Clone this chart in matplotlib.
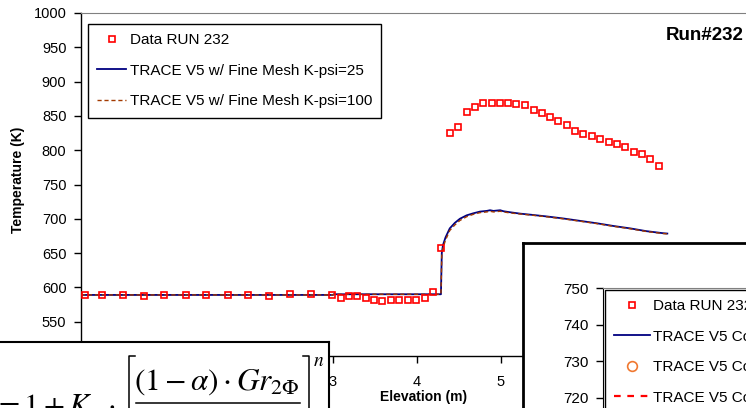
import matplotlib
matplotlib.use("Agg")
import matplotlib.pyplot as plt
from matplotlib.lines import Line2D

plt.rcParams['font.family'] = ['Liberation Sans', 'DejaVu Sans']
plt.rcParams['mathtext.fontset'] = 'stix'

# ---------------- data ----------------
data_x = [0.05, 0.25, 0.50, 0.75, 0.99, 1.25, 1.49, 1.75, 1.99, 2.24, 2.49, 2.74, 2.99,
          3.09, 3.19, 3.29, 3.39, 3.49, 3.58, 3.69, 3.78, 3.89, 3.99, 4.09, 4.19, 4.29,
          4.39, 4.49, 4.59, 4.69, 4.79, 4.89, 4.99, 5.08, 5.18, 5.29, 5.39, 5.49, 5.58,
          5.68, 5.78, 5.88, 5.98, 6.08, 6.18, 6.28, 6.38, 6.48, 6.58, 6.68, 6.77, 6.88]
data_y = [589, 589, 589, 588, 589, 589, 589, 589, 589, 588, 590, 590, 589,
          585, 587, 587, 585, 582, 580, 582, 582, 582, 582, 585, 593, 658,
          825, 834, 855, 863, 869, 869, 869, 869, 868, 866, 859, 854, 849,
          842, 837, 828, 824, 820, 816, 812, 809, 804, 797, 794, 787, 777]

k25_x = [0.0, 1.0, 2.0, 3.0, 3.01, 4.0, 4.285, 4.29, 4.295, 4.31, 4.34, 4.39, 4.45,
         4.51, 4.59, 4.67, 4.75, 4.83, 4.87, 4.91, 4.95, 4.99, 5.03, 5.11, 5.23, 5.35,
         5.54, 5.74, 5.94, 6.14, 6.34, 6.54, 6.73, 6.93, 6.98]
k25_y = [589, 589, 589, 589, 590, 590, 590, 620, 650, 662, 673, 686, 694,
         700, 705, 708, 710.5, 711.5, 712.5, 711.5, 712, 712.5, 711, 709.5, 707.5, 706,
         703.5, 700.5, 697, 693.5, 689.5, 686, 682, 679, 678.5]

k100_x = [0.0, 1.0, 2.0, 3.0, 3.01, 4.0, 4.285, 4.29, 4.295, 4.31, 4.34, 4.39, 4.45,
          4.51, 4.59, 4.67, 4.75, 4.83, 4.87, 4.91, 4.95, 4.99, 5.03, 5.11, 5.23, 5.35,
          5.54, 5.74, 5.94, 6.14, 6.34, 6.54, 6.73, 6.93, 6.98]
k100_y = [589, 589, 589, 589, 590, 590, 590, 618, 646, 658, 669, 683, 691,
          697.5, 703, 706.5, 709, 710, 711, 710, 710.5, 711, 710, 708.5, 707, 705.5,
          703, 700, 696.5, 693, 689, 685.5, 681.5, 678.5, 678]

main_labels = ["Data RUN 232", "TRACE V5 w/ Fine Mesh K-psi=25",
               "TRACE V5 w/ Fine Mesh K-psi=100"]
inset_labels = ["Data RUN 232", "TRACE V5 Coarse Mesh K-psi=25",
                "TRACE V5 Coarse Mesh K-psi=100", "TRACE V5 Coarse Mesh K-psi=200"]
main_yticks = list(range(500, 1001, 50))
main_ytick_labels = [''] + [str(v) for v in range(550, 1001, 50)]
main_xticks = list(range(0, 9))
main_xtick_labels = ['', '', '', '3', '4', '5', '', '', '']
inset_yticks = [720, 730, 740, 750]

W, H = 746, 408
fig = plt.figure(figsize=(W / 100, H / 100), dpi=100)

def fx(px):
    return px / W

def fy(py):
    return 1 - py / H

# ---------------- main axes ----------------
ax = fig.add_axes([fx(81), fy(356), fx(753) - fx(81), fy(13) - fy(356)], zorder=0)
ax.plot(data_x, data_y, linestyle='none', marker='s', markersize=5,
        markerfacecolor='none', markeredgecolor='#FF0000', markeredgewidth=1.2,
        label=main_labels[0], zorder=4)
ax.plot(k25_x, k25_y, color='#000080', lw=1.3, label=main_labels[1], zorder=3)
ax.plot(k100_x, k100_y, color='#A33A00', lw=1.0, dashes=(3, 2),
        label=main_labels[2], zorder=3)
ax.set_xlim(0, 8)
ax.set_ylim(500, 1000)
ax.set_yticks(main_yticks)
ax.set_yticklabels(main_ytick_labels)
ax.set_xticks(main_xticks)
ax.set_xticklabels(main_xtick_labels)
ax.tick_params(axis='both', direction='out', length=5, width=1, colors='black',
               labelsize=10.5)
ax.tick_params(axis='y', pad=5.5)
ax.tick_params(axis='x', pad=9)
ax.spines['top'].set_color('#808080')
ax.spines['right'].set_color('#808080')
ax.spines['left'].set_linewidth(1.0)
ax.spines['bottom'].set_linewidth(1.0)

leg = ax.legend(loc='upper left', bbox_to_anchor=((88 - 81) / 672, (356 - 24) / 343),
                borderaxespad=0, fontsize=11, frameon=True, fancybox=False,
                edgecolor='black', framealpha=1, labelspacing=1.07,
                handlelength=1.85, handletextpad=0.25, borderpad=0.62)
leg.get_frame().set_linewidth(1.0)

fig.text(fx(18), fy(180), "Temperature (K)", rotation=90, ha='center', va='center',
         fontsize=10, fontweight='bold')
fig.text(fx(424), fy(397), "Elevation (m)", ha='center', va='center',
         fontsize=10, fontweight='bold')
fig.text(fx(744), fy(36), "Run#232", ha='right', va='center',
         fontsize=13.5, fontweight='bold')

# ---------------- equation box ----------------
eq_ax = fig.add_axes([fx(-5), fy(430), fx(329) - fx(-5), fy(342) - fy(430)], zorder=1)
eq_ax.set_xticks([])
eq_ax.set_yticks([])
for s in eq_ax.spines.values():
    s.set_color('black')
    s.set_linewidth(1.5)

fig.text(fx(-6), fy(415), r'$=1+K_{\psi}\cdot$', ha='left', va='baseline',
         fontsize=22, zorder=5)
fig.text(fx(217), fy(390), r'$(1-\alpha)\cdot Gr_{2\Phi}$', ha='center',
         va='baseline', fontsize=22.5, zorder=5)
fig.text(fx(313), fy(366), r'$n$', ha='left', va='baseline', fontsize=14, zorder=5)
# fraction bar and square brackets of the formula
fig.add_artist(Line2D([fx(136), fx(300)], [fy(403), fy(403)], transform=fig.transFigure,
                      color='black', lw=1.1, zorder=5))
fig.add_artist(Line2D([fx(135), fx(129), fx(129)], [fy(355.5), fy(355.5), fy(420)],
                      transform=fig.transFigure, color='black', lw=1.1, zorder=5))
fig.add_artist(Line2D([fx(303), fx(309), fx(309)], [fy(355.5), fy(355.5), fy(420)],
                      transform=fig.transFigure, color='black', lw=1.1, zorder=5))

# ---------------- inset box ----------------
box_ax = fig.add_axes([fx(523), fy(430), fx(770) - fx(523), fy(243) - fy(430)], zorder=2)
box_ax.set_xticks([])
box_ax.set_yticks([])
for s in box_ax.spines.values():
    s.set_color('black')
    s.set_linewidth(2)

ins = fig.add_axes([fx(603), fy(288 + 183), fx(303), fy(288) - fy(288 + 183)], zorder=3)
ins.patch.set_alpha(0)
ins.set_ylim(700, 750)
ins.set_xlim(0, 1)
ins.set_yticks(inset_yticks)
ins.set_xticks([])
ins.tick_params(axis='y', direction='out', length=5, width=1, labelsize=11, pad=5)
ins.spines['top'].set_color('#808080')
ins.spines['right'].set_visible(False)
ins.spines['bottom'].set_visible(False)

handles = [
    Line2D([], [], linestyle='none', marker='s', markersize=5, markerfacecolor='none',
           markeredgecolor='#FF0000', markeredgewidth=1.2),
    Line2D([], [], color='#000080', lw=1.3),
    Line2D([], [], linestyle='none', marker='o', markersize=7, markerfacecolor='none',
           markeredgecolor='#F07830', markeredgewidth=1.2),
    Line2D([], [], color='#FF0000', lw=1.6, dashes=(3, 3)),
]
leg2 = ins.legend(handles, inset_labels, loc='upper left',
                  bbox_to_anchor=(2 / 303, 1 - 2 / 183), borderaxespad=0,
                  fontsize=11, frameon=True, fancybox=False, edgecolor='black',
                  framealpha=1, labelspacing=1.07, handlelength=2.3,
                  handletextpad=0.2, borderpad=0.62)
leg2.get_frame().set_linewidth(1.0)

fig.savefig("out.png", dpi=100)
